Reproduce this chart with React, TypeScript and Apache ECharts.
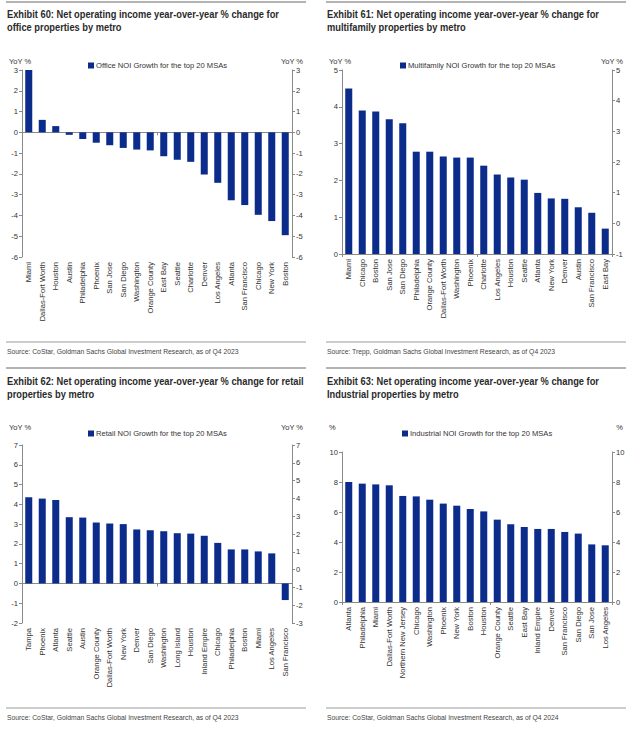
import React, { useEffect, useRef } from "react";
import * as echarts from "echarts";

// ---------- DATA ----------
const officeCities = ["Miami", "Dallas-Fort Worth", "Houston", "Austin", "Philadelphia", "Phoenix", "San Jose", "San Diego", "Washington", "Orange County", "East Bay", "Seattle", "Charlotte", "Denver", "Los Angeles", "Atlanta", "San Francisco", "Chicago", "New York", "Boston"];
const officeValues = [3.0, 0.6, 0.3, -0.12, -0.32, -0.5, -0.62, -0.75, -0.83, -0.87, -1.15, -1.32, -1.42, -2.03, -2.43, -3.27, -3.5, -3.97, -4.27, -4.95];

const multifamilyCities = ["Miami", "Chicago", "Boston", "San Jose", "San Diego", "Philadelphia", "Orange County", "Dallas-Fort Worth", "Washington", "Phoenix", "Charlotte", "Los Angeles", "Houston", "Seattle", "Atlanta", "New York", "Denver", "Austin", "San Francisco", "East Bay"];
const multifamilyValues = [4.5, 3.9, 3.87, 3.66, 3.55, 2.78, 2.78, 2.65, 2.62, 2.62, 2.4, 2.16, 2.08, 2.02, 1.66, 1.51, 1.5, 1.27, 1.12, 0.69];

const retailCities = ["Tampa", "Phoenix", "Atlanta", "Seattle", "Austin", "Orange County", "Dallas-Fort Worth", "New York", "Denver", "San Diego", "Washington", "Long Island", "Houston", "Inland Empire", "Chicago", "Philadelphia", "Boston", "Miami", "Los Angeles", "San Francisco"];
const retailValues = [4.36, 4.29, 4.22, 3.35, 3.33, 3.08, 3.03, 3.0, 2.73, 2.69, 2.64, 2.54, 2.52, 2.41, 2.05, 1.72, 1.72, 1.62, 1.52, -0.84];

const industrialCities = ["Atlanta", "Philadelphia", "Miami", "Dallas-Fort Worth", "Northern New Jersey", "Chicago", "Washington", "Phoenix", "New York", "Boston", "Houston", "Orange County", "Seattle", "East Bay", "Inland Empire", "Denver", "San Francisco", "San Diego", "San Jose", "Los Angeles"];
const industrialValues = [8.0, 7.89, 7.84, 7.78, 7.07, 7.04, 6.82, 6.56, 6.42, 6.2, 6.04, 5.49, 5.18, 5.0, 4.87, 4.87, 4.67, 4.56, 3.84, 3.78];

const seriesNames = [
  "Office NOI Growth for the top 20 MSAs",
  "Multifamily NOI Growth for the top 20 MSAs",
  "Retail NOI Growth for the top 20 MSAs",
  "Industrial NOI Growth for the top 20 MSAs",
];
const titleLines = [
  ["Exhibit 60: Net operating income year-over-year % change for", "office properties by metro"],
  ["Exhibit 61: Net operating income year-over-year % change for", "multifamily properties by metro"],
  ["Exhibit 62: Net operating income year-over-year % change for retail", "properties by metro"],
  ["Exhibit 63: Net operating income year-over-year % change for", "Industrial properties by metro"],
];
const sources = [
  "Source: CoStar, Goldman Sachs Global Investment Research, as of Q4 2023",
  "Source: Trepp, Goldman Sachs Global Investment Research, as of Q4 2023",
  "Source: CoStar, Goldman Sachs Global Investment Research, as of Q4 2023",
  "Source: CoStar, Goldman Sachs Global Investment Research, as of Q4 2024",
];
const axisUnits = ["YoY %", "YoY %", "YoY %", "%"];
// [leftMin, leftMax, leftInterval, rightMin, rightMax, rightInterval]
const axisRanges = [
  [-6, 3, 1, -6, 3, 1],
  [0, 5, 1, -1, 5, 1],
  [-2, 7, 1, -3, 7, 1],
  [0, 10, 2, 0, 10, 2],
];

// ---------- STYLE / LAYOUT ----------
const BAR = "#0c2c8c";
const AXIS = "#8a8a8a";
const SANS = "'Liberation Sans', Arial, sans-serif";

const panelCities = [officeCities, multifamilyCities, retailCities, industrialCities];
const panelValues = [officeValues, multifamilyValues, retailValues, industrialValues];

const panelX = [0, 320, 0, 320];
const panelY = [0, 0, 366, 366];
const grids = [
  { left: 22, right: 348, top: 70, bottom: 480 },
  { left: 342, right: 28, top: 70, bottom: 483 },
  { left: 22, right: 348, top: 445, bottom: 114 },
  { left: 342, right: 28, top: 452, bottom: 135 },
];
const unitY = [61, 61, 427, 427];
const legendTop = [61.5, 61.5, 429.5, 429.5];
const legendLeft = [88, 400, 88, 402];
const titleY = [
  [14, 27.5],
  [14, 27.5],
  [381, 394],
  [381, 394],
];

function buildOption() {
  const grid: any[] = [];
  const xAxis: any[] = [];
  const yAxis: any[] = [];
  const series: any[] = [];
  const legend: any[] = [];
  const graphic: any[] = [];

  for (let i = 0; i < 4; i++) {
    const g = grids[i];
    grid.push({ ...g, containLabel: false, outerBoundsMode: "none" });
    const r = axisRanges[i];
    xAxis.push({
      type: "category",
      gridIndex: i,
      data: panelCities[i],
      position: "bottom",
      axisLine: { show: false, onZero: false },
      axisTick: { show: false },
      axisLabel: { interval: 0, rotate: 90, fontSize: 7.6, color: "#333", margin: 5, fontFamily: SANS },
      splitLine: { show: false },
    });
    xAxis.push({
      type: "category",
      gridIndex: i,
      data: panelCities[i],
      position: "bottom",
      axisLine: { show: true, onZero: true, onZeroAxisIndex: i * 2, lineStyle: { color: AXIS, width: 1 } },
      axisTick: { show: true, length: 3, lineStyle: { color: AXIS } },
      axisLabel: { show: false },
      splitLine: { show: false },
    });
    const yCommon = {
      type: "value",
      gridIndex: i,
      axisLine: { show: true, lineStyle: { color: AXIS, width: 1 } },
      axisTick: { show: true, length: 3, inside: false, lineStyle: { color: AXIS } },
      axisLabel: { fontSize: 7.6, color: "#333", margin: 4, fontFamily: SANS },
      splitLine: { show: false },
    };
    yAxis.push({ ...yCommon, position: "left", min: r[0], max: r[1], interval: r[2] });
    yAxis.push({ ...yCommon, position: "right", min: r[3], max: r[4], interval: r[5] });

    series.push({
      type: "bar",
      name: seriesNames[i],
      xAxisIndex: i * 2,
      yAxisIndex: i * 2,
      data: panelValues[i],
      barCategoryGap: "48%",
      itemStyle: { color: BAR },
    });

    legend.push({
      data: [seriesNames[i]],
      left: legendLeft[i],
      top: legendTop[i],
      padding: 0,
      icon: "rect",
      itemWidth: 6,
      itemHeight: 6,
      itemGap: 2,
      textStyle: { fontSize: 7.6, color: "#333", fontFamily: SANS, padding: [0, 0, 0, -3] },
      selectedMode: false,
    });

    const px = panelX[i];
    const py = panelY[i];
    graphic.push({
      type: "line",
      shape: { x1: px + 6, y1: py + 2, x2: px + 306, y2: py + 2 },
      style: { stroke: "#9a9a9a", lineWidth: 1.3 },
      silent: true,
    });
    titleLines[i].forEach((t, k) => {
      graphic.push({
        type: "text",
        x: px + 7,
        y: titleY[i][k],
        scaleX: 0.93,
        style: {
          text: t,
          fontSize: 10,
          fontWeight: "bold",
          fontFamily: SANS,
          fill: "#2a2a2a",
          textAlign: "left",
          verticalAlign: "middle",
        },
        silent: true,
      });
    });
    graphic.push({
      type: "text",
      x: px + 9,
      y: unitY[i],
      style: { text: axisUnits[i], fontSize: 7.5, fontFamily: SANS, fill: "#333", textAlign: "left", verticalAlign: "middle" },
      silent: true,
    });
    graphic.push({
      type: "text",
      x: px + 303,
      y: unitY[i],
      style: { text: axisUnits[i], fontSize: 7.5, fontFamily: SANS, fill: "#333", textAlign: "right", verticalAlign: "middle" },
      silent: true,
    });
    graphic.push({
      type: "line",
      shape: { x1: px + 6, y1: py + 342, x2: px + 306, y2: py + 342 },
      style: { stroke: "#9a9a9a", lineWidth: 1 },
      silent: true,
    });
    graphic.push({
      type: "text",
      x: px + 7,
      y: py + 351,
      scaleX: 0.93,
      style: { text: sources[i], fontSize: 7.3, fontFamily: SANS, fill: "#444", textAlign: "left", verticalAlign: "middle" },
      silent: true,
    });
  }

  return {
    animation: false,
    backgroundColor: "#ffffff",
    grid,
    xAxis,
    yAxis,
    series,
    legend,
    graphic,
  };
}

export default function App() {
  const ref = useRef<HTMLDivElement>(null);
  useEffect(() => {
    document.body.style.margin = "0";
    const chart = echarts.init(ref.current!, null, { renderer: "svg" });
    chart.setOption(buildOption() as any);
    return () => chart.dispose();
  }, []);
  return <div ref={ref} style={{ width: 640, height: 737 }} />;
}
